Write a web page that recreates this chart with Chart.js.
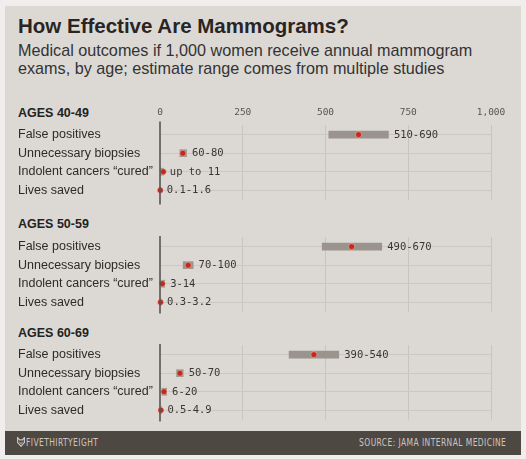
<!DOCTYPE html>
<html>
<head>
<meta charset="utf-8">
<script src="https://cdn.jsdelivr.net/npm/chart.js@4.4.1/dist/chart.umd.min.js"></script>
<style>
  html, body { margin: 0; padding: 0; }
  body { width: 526px; height: 459px; background: #efeeec; position: relative; overflow: hidden;
         font-family: "Liberation Sans", Arial, sans-serif; }
  #card { position: absolute; left: 5px; top: 6px; width: 516px; height: 449px; background: #dcd9d5; }
  #footer { position: absolute; left: 5px; top: 431px; width: 516px; height: 24px; background: #4e4843; }
  .txt { position: absolute; white-space: nowrap; }
  #title { left: 18px; top: 15.6px; font-size: 20.5px; line-height: 20.5px; font-weight: bold; color: #2a2522; }
  #subtitle { left: 18px; top: 41px; font-size: 16.2px; line-height: 18.3px; color: #333; }
  .group { left: 18px; font-size: 12.5px; line-height: 12.5px; font-weight: bold; color: #222; }
  .foot { font-family: "Liberation Sans Narrow", "DejaVu Sans Condensed", sans-serif; font-size: 10px;
          line-height: 10px; color: #cbc6c0; letter-spacing: 0.5px; transform: scaleX(0.84); }
  canvas { position: absolute; left: 0; }
</style>
</head>
<body>
<div id="card"></div>
<div id="footer"></div>
<div class="txt" id="title">How Effective Are Mammograms?</div>
<div class="txt" id="subtitle">Medical outcomes if 1,000 women receive annual mammogram<br>exams, by age; estimate range comes from multiple studies</div>
<div class="txt group" id="g0" style="top:106.7px"></div>
<div class="txt group" id="g1" style="top:218.4px"></div>
<div class="txt group" id="g2" style="top:327.1px"></div>
<svg style="position:absolute;left:17px;top:437px" width="8" height="10" viewBox="0 0 8 10">
  <path d="M0.6,0.6 L2.6,2.8 L5.4,2.8 L7.4,0.6 L7.4,5.6 L4,9.2 L0.6,5.6 Z" fill="none" stroke="#cbc6c0" stroke-width="1.2"/>
  <path d="M2.4,5.2 L4,6.6 L5.6,5.2" fill="none" stroke="#cbc6c0" stroke-width="1"/>
</svg>
<div class="txt foot" style="left:26px;top:437.5px;transform-origin:left center">FIVETHIRTYEIGHT</div>
<div class="txt foot" style="right:20px;top:438px;transform-origin:right center">SOURCE: JAMA INTERNAL MEDICINE</div>

<canvas id="c0" width="526" height="105" style="top:100px;width:526px;height:105px"></canvas>
<canvas id="c1" width="526" height="85" style="top:232px;width:526px;height:85px"></canvas>
<canvas id="c2" width="526" height="85" style="top:340px;width:526px;height:85px"></canvas>

<script>
const rowLabels = ['False positives', 'Unnecessary biopsies', 'Indolent cancers \u201ccured\u201d', 'Lives saved'];
const ageGroups = ['AGES 40-49', 'AGES 50-59', 'AGES 60-69'];
const xTicks = [0, 250, 500, 750, 1000];

// per 1,000 women: low / high end of the estimate range, and the point estimate
const low4049 = [510, 60, 0, 0.1];
const high4049 = [690, 80, 11, 1.6];
const est4049 = [600, 69, 10, 0.85];
const text4049 = ['510-690', '60-80', 'up to 11', '0.1-1.6'];

const low5059 = [490, 70, 3, 0.3];
const high5059 = [670, 100, 14, 3.2];
const est5059 = [579, 85, 7, 1.75];
const text5059 = ['490-670', '70-100', '3-14', '0.3-3.2'];

const low6069 = [390, 50, 6, 0.5];
const high6069 = [540, 70, 20, 4.9];
const est6069 = [465, 60, 12, 2.7];
const text6069 = ['390-540', '50-70', '6-20', '0.5-4.9'];

const groups = [
  { low: low4049, high: high4049, est: est4049, text: text4049 },
  { low: low5059, high: high5059, est: est5059, text: text5059 },
  { low: low6069, high: high6069, est: est6069, text: text6069 }
];

Chart.defaults.font.family = '"Liberation Sans", Arial, sans-serif';
Chart.defaults.animation = false;

const monoFont = '"DejaVu Sans Mono", monospace';
const dotRadius = 3;

// range labels next to each bar + the dark zero line
const rangeLabels = {
  id: 'rangeLabels',
  afterDatasetsDraw(chart, args, opts) {
    const { ctx, chartArea } = chart;
    const x = chart.scales.x, y = chart.scales.y;
    const g = groups[opts.group];
    const x0 = x.getPixelForValue(0);
    ctx.save();
    ctx.strokeStyle = '#5a5450';
    ctx.lineWidth = 1.6;
    ctx.beginPath();
    ctx.moveTo(x0, chartArea.top - opts.extTop);
    ctx.lineTo(x0, chartArea.bottom + opts.extBottom);
    ctx.stroke();

    ctx.font = '10.5px ' + monoFont;
    ctx.fillStyle = '#3a3532';
    ctx.textBaseline = 'middle';
    ctx.textAlign = 'left';
    g.text.forEach((t, i) => {
      const hiPx = x.getPixelForValue(g.high[i]);
      const dotPx = x.getPixelForValue(g.est[i]);
      const tx = Math.max(hiPx + 5.5, dotPx + dotRadius + 3.5);
      ctx.fillText(t, tx, y.getPixelForValue(i) + 0.5);
    });
    ctx.restore();
  }
};

function makeChart(id, gi, showTicks, padTop, extTop, extBottom) {
  const g = groups[gi];
  document.getElementById('g' + gi).textContent = ageGroups[gi];
  return new Chart(document.getElementById(id), {
    type: 'bar',
    data: {
      labels: rowLabels,
      datasets: [
        {
          type: 'line',
          label: 'Estimate',
          data: g.est.map((v, i) => ({ x: v, y: rowLabels[i] })),
          showLine: false,
          pointRadius: dotRadius,
          pointBackgroundColor: '#c6281c',
          pointBorderColor: 'rgba(255,235,225,0.45)',
          pointBorderWidth: 0.8,
          clip: false,
          order: 0
        },
        {
          label: 'Range',
          data: g.low.map((v, i) => [v, g.high[i]]),
          backgroundColor: '#9b938e',
          barThickness: 7,
          borderWidth: 0,
          borderSkipped: false,
          clip: false,
          order: 1
        }
      ]
    },
    options: {
      indexAxis: 'y',
      responsive: false,
      layout: { padding: { left: 18, right: 35, top: padTop, bottom: 5.5 } },
      plugins: {
        legend: { display: false },
        tooltip: { enabled: false },
        rangeLabels: { group: gi, extTop: extTop, extBottom: extBottom }
      },
      scales: {
        x: {
          type: 'linear',
          position: 'top',
          min: 0,
          max: 1000,
          afterBuildTicks: (s) => { s.ticks = xTicks.map(v => ({ value: v })); },
          afterFit: (s) => {
            s.height = showTicks ? 25.4 : 0;
            s.paddingLeft = 0; s.paddingRight = 0;
          },
          border: { display: false },
          grid: {
            drawTicks: false,
            color: (c) => c.tick && c.tick.value === 0 ? 'rgba(0,0,0,0)' : '#c8c4bf',
            lineWidth: 1
          },
          ticks: {
            display: showTicks,
            padding: 7,
            color: '#5a5550',
            font: { family: monoFont, size: 9.5 },
            callback: (v) => v.toLocaleString('en-US')
          }
        },
        y: {
          type: 'category',
          afterFit: (s) => {
            s.width = 142;
            s.paddingTop = 0; s.paddingBottom = 0;
          },
          border: { display: false },
          grid: { offset: false, drawTicks: false, color: '#cbc7c2', lineWidth: 1 },
          ticks: {
            autoSkip: false,
            crossAlign: 'far',
            color: '#2e2a27',
            font: { size: 12.5 }
          }
        }
      }
    },
    plugins: [rangeLabels]
  });
}

makeChart('c0', 0, true, 0, 4, 5);
makeChart('c1', 1, false, 5.4, 1.5, 2);
makeChart('c2', 2, false, 5.4, 1.5, 2);
</script>
</body>
</html>
